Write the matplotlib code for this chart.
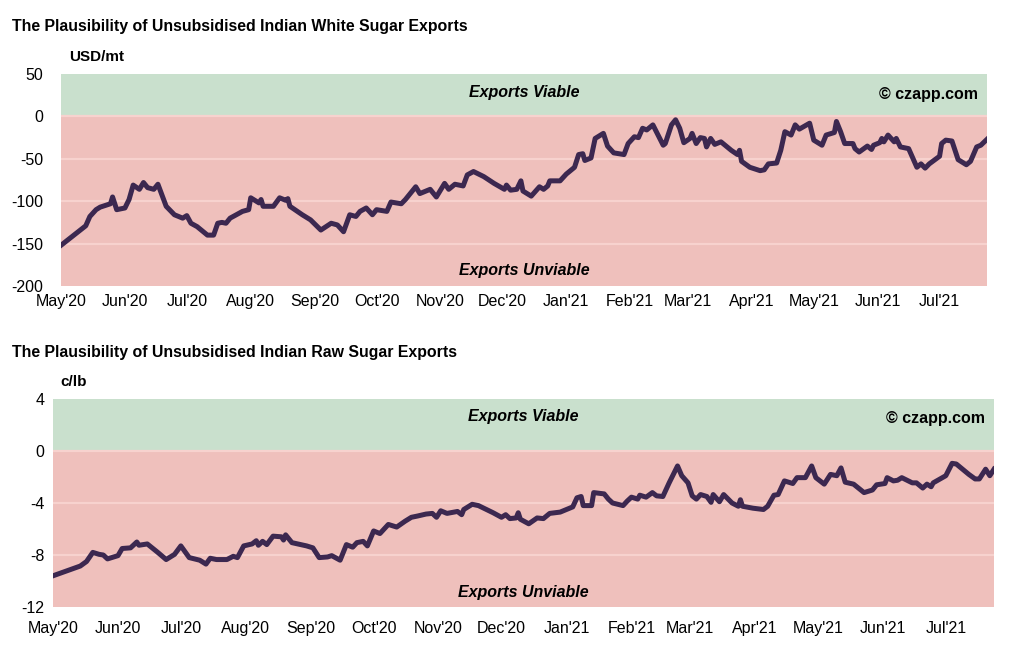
import numpy as np
import pandas as pd
import matplotlib
matplotlib.use("Agg")
import matplotlib.pyplot as plt
import matplotlib.dates as mdates

plt.rcParams['font.family'] = ['Liberation Sans', 'DejaVu Sans']
plt.rcParams['axes.unicode_minus'] = False

# days since 1 May 2020
white_days = [0, 12, 14, 17, 19, 24, 25, 27, 31, 33, 35, 38, 40, 42, 45, 47, 51, 55, 59, 61,
              63, 66, 71, 74, 76, 78, 80, 82, 85, 88, 91, 92, 96, 97, 98, 103, 106, 109, 110, 111,
              117, 121, 126, 131, 134, 137, 140, 143, 145, 148, 151, 153, 158, 160, 165, 167, 172, 174, 179, 182,
              186, 188, 191, 195, 197, 200, 205, 210, 215, 216, 218, 221, 223, 224, 228, 232, 234, 236, 237, 242,
              245, 249, 251, 253, 254, 257, 259, 263, 265, 268, 273, 275, 278, 280, 282, 284, 287, 292, 293, 296,
              298, 300, 302, 305, 306, 308, 310, 312, 313, 315, 317, 320, 325, 328, 329, 330, 334, 339, 341, 343,
              347, 349, 351, 354, 356, 358, 363, 365, 369, 371, 375, 376, 378, 380, 384, 385, 387, 391, 393, 394,
              397, 398, 399, 401, 404, 405, 407, 411, 415, 417, 419, 421, 426, 427, 429, 432, 435, 439, 441, 444,
              446, 449]
white_vals = [-152, -129, -118, -110, -107, -103, -95, -110, -108, -98, -81, -86, -78, -84, -86, -80, -106, -116, -120, -117,
              -126, -130, -140, -140, -126, -125, -126, -120, -116, -112, -110, -96, -102, -98, -106, -106, -96, -99, -97, -106,
              -116, -122, -134, -126, -128, -136, -116, -118, -112, -108, -116, -110, -112, -101, -103, -98, -83, -91, -86, -95,
              -79, -86, -80, -82, -69, -65, -71, -79, -86, -81, -87, -86, -76, -88, -94, -83, -86, -82, -76, -76,
              -68, -60, -45, -44, -52, -49, -26, -20, -35, -43, -45, -32, -24, -25, -14, -16, -10, -34, -32, -10,
              -4, -14, -31, -26, -20, -32, -25, -26, -36, -26, -33, -30, -40, -45, -40, -53, -60, -64, -63, -56,
              -55, -40, -18, -22, -10, -15, -8, -28, -34, -22, -19, -6, -18, -32, -32, -38, -42, -35, -39, -34,
              -31, -26, -30, -22, -30, -26, -36, -38, -60, -56, -61, -56, -47, -32, -28, -29, -51, -57, -53, -36,
              -34, -27]

raw_days = [0, 13, 16, 19, 22, 24, 26, 31, 33, 37, 40, 41, 45, 50, 54, 58, 61, 65, 70, 73,
            75, 78, 83, 86, 88, 91, 95, 97, 98, 100, 102, 105, 109, 110, 111, 114, 121, 124, 127, 131,
            133, 137, 140, 143, 145, 148, 150, 153, 156, 160, 164, 168, 171, 174, 178, 181, 183, 185, 188, 193,
            195, 196, 200, 203, 210, 214, 216, 218, 221, 222, 223, 227, 231, 234, 237, 242, 245, 248, 250, 252,
            253, 257, 258, 263, 265, 267, 272, 274, 276, 279, 280, 283, 286, 288, 291, 294, 298, 300, 303, 305,
            307, 309, 312, 314, 315, 318, 320, 324, 327, 328, 329, 334, 339, 341, 344, 346, 349, 353, 355, 359,
            362, 364, 368, 371, 374, 376, 378, 382, 387, 391, 393, 397, 398, 401, 403, 405, 410, 412, 415, 417,
            419, 420, 426, 429, 431, 437, 440, 442, 445, 447, 449]
raw_vals = [-9.6, -8.85, -8.5, -7.8, -7.95, -8.0, -8.3, -8.05, -7.5, -7.45, -7.0, -7.25, -7.15, -7.8, -8.35, -7.95, -7.3, -8.2, -8.4, -8.7,
            -8.25, -8.35, -8.35, -8.1, -8.2, -7.3, -7.15, -6.9, -7.25, -6.95, -7.2, -6.55, -6.6, -6.85, -6.45, -7.05, -7.3, -7.45, -8.2, -8.15,
            -8.05, -8.4, -7.2, -7.4, -7.05, -6.95, -7.3, -6.15, -6.35, -5.65, -5.85, -5.4, -5.1, -5.0, -4.85, -4.8, -5.1, -4.6, -4.8, -4.65,
            -4.9, -4.5, -4.1, -4.2, -4.75, -5.1, -4.9, -5.2, -5.15, -4.75, -5.25, -5.6, -5.15, -5.2, -4.8, -4.7, -4.5, -4.3, -3.6, -3.5,
            -4.2, -4.2, -3.2, -3.3, -3.7, -4.0, -4.2, -3.85, -3.55, -3.7, -3.4, -3.55, -3.2, -3.45, -3.5, -2.45, -1.15, -1.9, -2.45, -3.45,
            -3.7, -3.35, -3.5, -3.95, -3.35, -3.9, -3.35, -4.0, -4.25, -3.75, -4.25, -4.4, -4.5, -4.25, -3.4, -3.35, -2.3, -2.5, -2.05, -2.05,
            -1.15, -2.05, -2.55, -1.8, -1.9, -1.3, -2.4, -2.55, -3.2, -3.0, -2.6, -2.5, -2.05, -2.3, -2.25, -2.05, -2.45, -2.45, -2.85, -2.55,
            -2.75, -2.45, -1.9, -0.95, -1.0, -1.8, -2.15, -2.15, -1.4, -1.9, -1.4]

white_yticks = [50, 0, -50, -100, -150, -200]
raw_yticks = [4, 0, -4, -8, -12]

START = pd.Timestamp('2020-05-01')
END = pd.Timestamp('2021-07-24')

W, H = 1026, 648
GREEN = '#c9e0cd'
RED = '#efc0bc'
GRID = '#f7d2ce'
LINE = '#3c2850'


def to_dates(days):
    return START + pd.to_timedelta(np.array(days), unit='D')


def px(x, y):
    return x / W, 1 - y / H


def draw_panel(fig, box, days, vals, yticks, unit, title, labels_y, ypad, xpad):
    """box = (left, top, right, bottom) in pixels"""
    l, t, r, b = box
    ax = fig.add_axes([l / W, 1 - b / H, (r - l) / W, (b - t) / H])
    top, bottom = yticks[0], yticks[-1]
    ax.axhspan(0, top, color=GREEN, lw=0, zorder=0)
    ax.axhspan(bottom, 0, color=RED, lw=0, zorder=0)
    for y in yticks[1:-1]:
        ax.axhline(y, color=GRID, lw=1.6, zorder=1)
    ax.plot(to_dates(days), vals, color=LINE, lw=3.6, solid_joinstyle='round', zorder=3)

    ax.set_xlim(START, END)
    ax.set_ylim(bottom, top)
    ax.set_yticks(yticks)
    ax.xaxis.set_major_locator(mdates.MonthLocator())
    ax.xaxis.set_major_formatter(mdates.DateFormatter("%b'%y"))
    ax.tick_params(axis='both', length=0, labelsize=11.5)
    ax.tick_params(axis='y', pad=ypad)
    ax.tick_params(axis='x', pad=xpad)
    for s in ax.spines.values():
        s.set_visible(False)

    viable_y, unviable_y = labels_y
    cx = (l + r) / 2
    fig.text(*px(cx, viable_y), 'Exports Viable', ha='center', va='center',
             fontsize=11.5, fontweight='bold', fontstyle='italic')
    fig.text(*px(cx, unviable_y), 'Exports Unviable', ha='center', va='center',
             fontsize=11.5, fontweight='bold', fontstyle='italic')
    fig.text(*px(r - 9, viable_y + 2), '\u00a9 czapp.com', ha='right', va='center',
             fontsize=11.5, fontweight='bold')

    fig.text(*px(12, title[1]), title[0], ha='left', va='center', fontsize=11.4, fontweight='bold')
    fig.text(*px(unit[1], unit[2]), unit[0], ha='left', va='center', fontsize=11, fontweight='bold')
    return ax


fig = plt.figure(figsize=(W / 100, H / 100), dpi=100)

draw_panel(fig, (61, 74, 987, 286), white_days, white_vals, white_yticks,
           ('USD/mt', 69, 57), ('The Plausibility of Unsubsidised Indian White Sugar Exports', 27),
           (92, 270), ypad=13, xpad=6)
draw_panel(fig, (53, 399, 994, 607), raw_days, raw_vals, raw_yticks,
           ('c/lb', 60, 382), ('The Plausibility of Unsubsidised Indian Raw Sugar Exports', 352),
           (416, 593), ypad=6, xpad=10)

fig.savefig('out.png', dpi=100)
